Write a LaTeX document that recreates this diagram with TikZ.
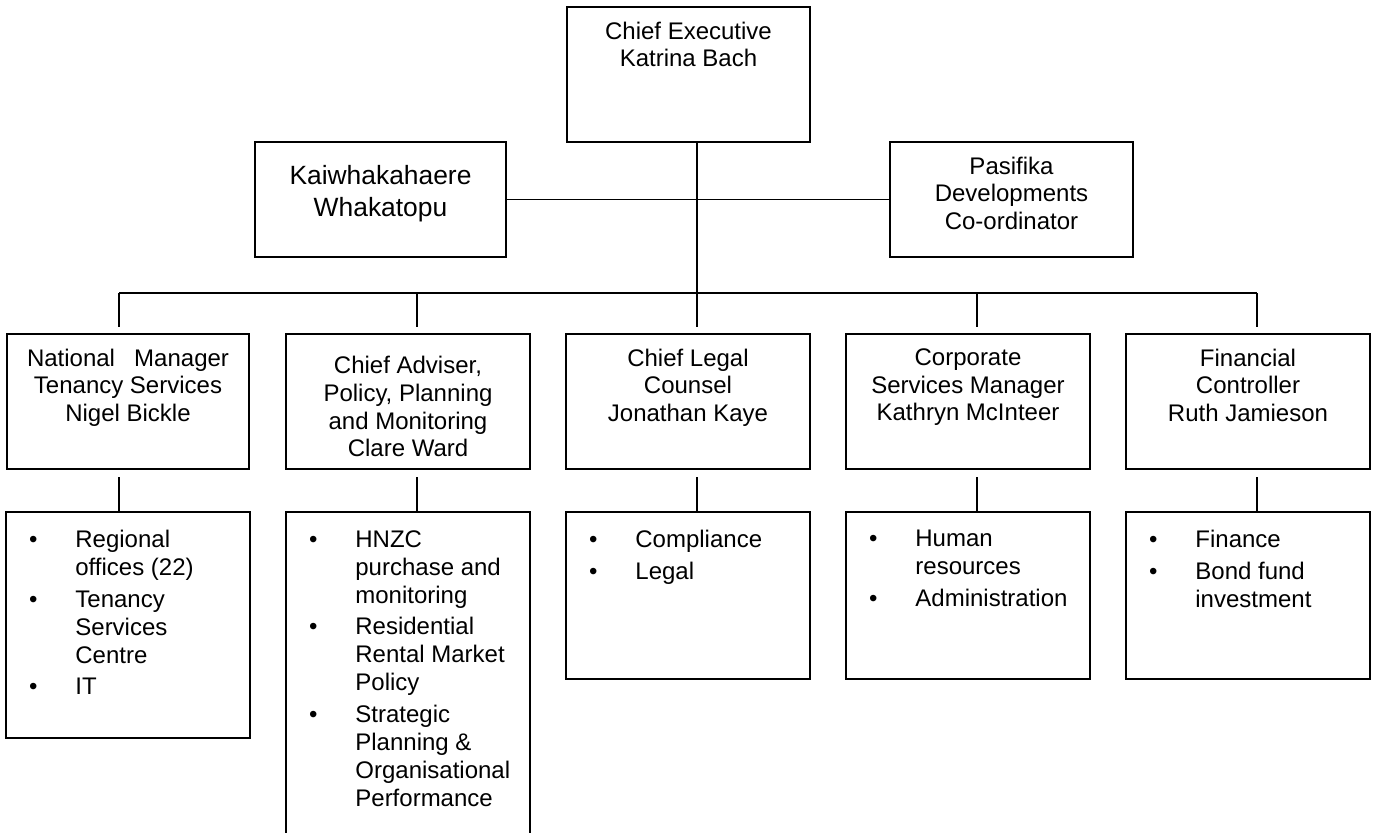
\documentclass[tikz,border=0pt]{standalone}
\usepackage{fontspec}
\setmainfont{Liberation Sans}
\usetikzlibrary{calc}
\newcommand\itm{\llap{\textbullet\hspace{18.9pt}}}
\begin{document}
\begin{tikzpicture}[x=0.5pt,y=-0.5pt,
  boxst/.style={draw, line width=0.9pt, rectangle, inner sep=0pt, outer sep=0pt, anchor=north west},
  ttl/.style={anchor=north, align=center, inner sep=0pt, font=\fontsize{12}{13.8}\selectfont, execute at begin node=\strut},
  lst/.style={anchor=north west, align=left, inner sep=0pt, font=\fontsize{12}{14}\selectfont, execute at begin node=\strut},
  conn/.style={line width=0.9pt}]
\clip (0,0) rectangle (1380,832);
\fill[white] (0,0) rectangle (1380,832);
% top level
\node[boxst, minimum width=121.5pt, minimum height=67.5pt] (ce) at (567,7) {};
\node[ttl] (cet) at ([yshift=-7.15pt]ce.north) {Chief Executive\\Katrina Bach};
\node[boxst, minimum width=125.5pt, minimum height=57.5pt] (kai) at (255,142) {};
\node[ttl, font=\fontsize{13.2}{16}\selectfont] (kait) at ([yshift=-11.5pt]kai.north) {Kaiwhakahaere\\Whakatopu};
\node[boxst, minimum width=121.5pt, minimum height=57.5pt] (pas) at (890,142) {};
\node[ttl] (past) at ([yshift=-7.15pt]pas.north) {Pasifika\\Developments\\Co-ordinator};
% managers
\node[boxst, minimum width=121pt, minimum height=67.5pt] (m1) at (7,334) {};
\node[boxst, minimum width=122pt, minimum height=67.5pt] (m2) at (286,334) {};
\node[boxst, minimum width=122pt, minimum height=67.5pt] (m3) at (566,334) {};
\node[boxst, minimum width=122pt, minimum height=67.5pt] (m4) at (846,334) {};
\node[boxst, minimum width=122pt, minimum height=67.5pt] (m5) at (1126,334) {};
\node[ttl] (m1t) at ([yshift=-7.15pt]m1.north) {\makebox[101pt][s]{National Manager}\\Tenancy Services\\Nigel Bickle};
\node[ttl] (m2t) at ([yshift=-11pt]m2.north) {Chief Adviser,\\Policy, Planning\\and Monitoring\\Clare Ward};
\node[ttl] (m3t) at ([yshift=-7.15pt]m3.north) {Chief Legal\\Counsel\\Jonathan Kaye};
\node[ttl] (m4t) at ([yshift=-7.15pt]m4.north) {Corporate\\Services Manager\\Kathryn McInteer};
\node[ttl] (m5t) at ([yshift=-7.15pt]m5.north) {Financial\\Controller\\Ruth Jamieson};
% function lists
\node[boxst, minimum width=122pt, minimum height=113pt] (l1) at (6,512) {};
\node[boxst, minimum width=122pt, minimum height=170pt] (l2) at (286,512) {};
\node[boxst, minimum width=122pt, minimum height=83.5pt] (l3) at (566,512) {};
\node[boxst, minimum width=122pt, minimum height=83.5pt] (l4) at (846,512) {};
\node[boxst, minimum width=122pt, minimum height=83.5pt] (l5) at (1126,512) {};
\node[lst] (l1t) at ([xshift=34.5pt,yshift=-9pt]l1.north west) {\itm Regional\\offices (22)\\[1.75pt]\itm Tenancy\\Services\\Centre\\[1.75pt]\itm IT};
\node[lst] (l2t) at ([xshift=34.5pt,yshift=-9pt]l2.north west) {\itm HNZC\\purchase and\\monitoring\\[1.75pt]\itm Residential\\Rental Market\\Policy\\[1.75pt]\itm Strategic\\Planning \&\\Organisational\\Performance};
\node[lst] (l3t) at ([xshift=34.5pt,yshift=-9pt]l3.north west) {\itm Compliance\\[1.75pt]\itm Legal};
\node[lst] (l4t) at ([xshift=34.5pt,yshift=-9pt]l4.north west) {\itm Human\\resources\\[1.75pt]\itm Administration};
\node[lst] (l5t) at ([xshift=34.5pt,yshift=-9pt]l5.north west) {\itm Finance\\[1.75pt]\itm Bond fund\\investment};
% connectors
\coordinate (j1) at (119,293);
\coordinate (j2) at (417,293);
\coordinate (j3) at (697,293);
\coordinate (j4) at (977,293);
\coordinate (j5) at (1257,293);
\draw[conn] (kai.east) -- (pas.west);
\draw[conn] (ce.south -| j3) -- (j3);
\draw[conn] (j1) -- (j5);
\foreach \i in {1,...,5} {
  \draw[conn] (j\i) -- ([yshift=3.5pt]m\i.north -| j\i);
  \draw[conn] ([yshift=-4pt]m\i.south -| j\i) -- (l\i.north -| j\i);
}
\end{tikzpicture}
\end{document}
